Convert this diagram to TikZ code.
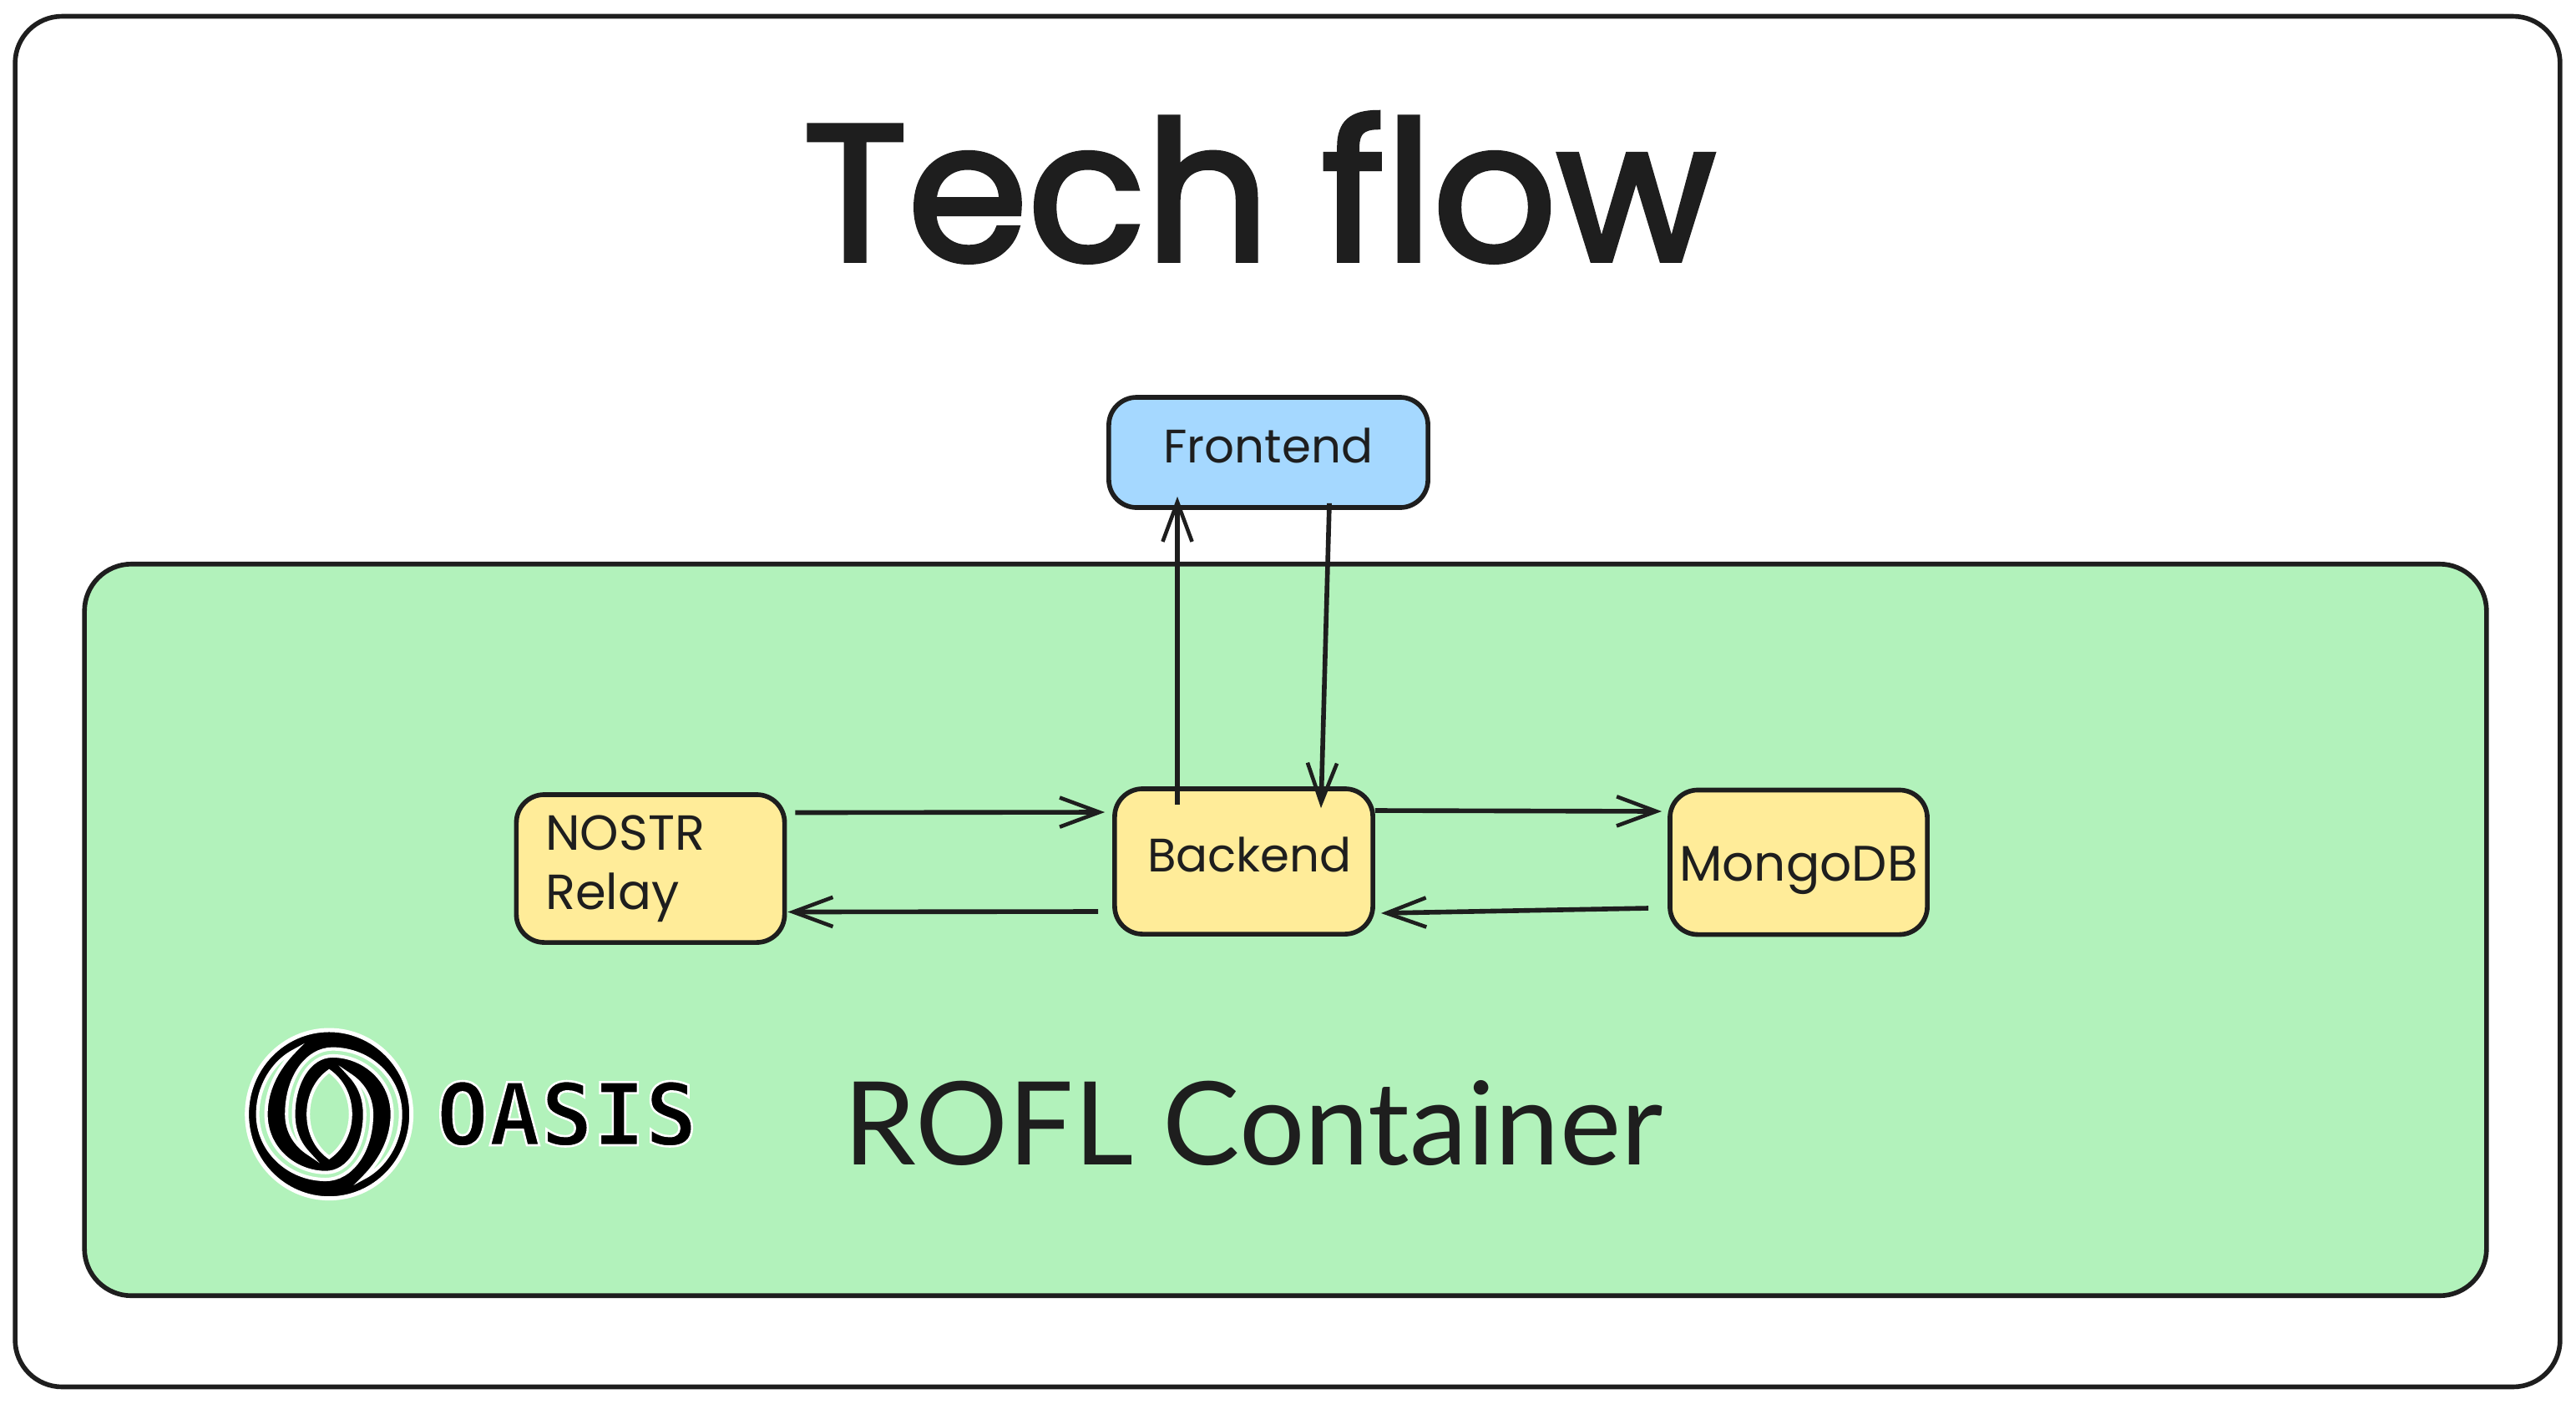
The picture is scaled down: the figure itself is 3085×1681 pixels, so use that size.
\documentclass[tikz,border=0pt]{standalone}
\usepackage{fontspec}
\usetikzlibrary{arrows.meta}
\setmainfont{Poppins}
\newfontfamily\titlefont[FakeBold=2.5]{Poppins}
\newfontfamily\roflfont{Lato}
\newfontfamily\oasisfont[BoldFeatures={FakeBold=2.5}]{DejaVu Sans Mono}
\definecolor{inkdark}{HTML}{1E1E1E}
\definecolor{roflgreen}{HTML}{B2F2BB}
\definecolor{frontblue}{HTML}{A5D8FF}
\definecolor{boxyellow}{HTML}{FFEC99}
\tikzset{
	flowbox/.style={draw=inkdark, line width=1.6pt, text=inkdark, rounded corners=9.5pt, font=\fontsize{16}{19.3}\selectfont},
	wrapbox/.style={draw=inkdark, line width=1.6pt, rounded corners=16pt},
	flowline/.style={draw=inkdark, line width=1.6pt, -{Straight Barb[length=13.5pt,width=10pt,line width=1.3pt]}},
	logoline/.style={draw=white, line width=1.15pt, fill=roflgreen}
}

\begin{document}
\begin{tikzpicture}[x=0.01cm,y=-0.01cm]
	\useasboundingbox (0,0) rectangle (3085,1681);
	\node[wrapbox, fill=white, minimum width=30.46cm, minimum height=16.41cm] (outer) at (1542,840.5) {};
	\node[wrapbox, fill=roflgreen, minimum width=28.75cm, minimum height=8.76cm] (rofl) at (1539.5,1114) {};
	\node[inner sep=0pt, anchor=base, text=inkdark, font=\titlefont\fontsize{66}{66}\selectfont] (title) at (1508,312) {Tech flow};

	\node[flowbox, fill=frontblue, minimum width=3.82cm, minimum height=1.32cm] (frontend) at (1519,542) {\raisebox{4.6pt}{Frontend}\hspace{10pt}};
	\node[flowbox, fill=boxyellow, minimum height=1.77cm, inner xsep=0.35cm, text width=2.51cm, align=left, font=\fontsize{16.8}{20.3}\selectfont] (nostr) at (779,1040.5) {NOSTR\\Relay};
	\node[flowbox, fill=boxyellow, minimum width=3.09cm, minimum height=1.74cm] (backend) at (1489.5,1032) {\hspace{4pt}\raisebox{4.6pt}{Backend}};
	\node[flowbox, fill=boxyellow, minimum width=3.08cm, minimum height=1.73cm, inner xsep=0pt, font=\fontsize{17}{20}\selectfont] (mongo) at (2154,1033) {\raisebox{-2.5pt}[12pt][4pt]{MongoDB}};

	% arrows, ends shifted off the anchors
	\draw[flowline] ([shift={(10,-67)}]nostr.east) -- ([shift={(-9,-59)}]backend.west);
	\draw[flowline] ([shift={(-17,60)}]backend.west) -- ([shift={(1,52)}]nostr.east);
	\draw[flowline] ([shift={(0,-61)}]backend.east) -- ([shift={(-7,-61)}]mongo.west);
	\draw[flowline] ([shift={(-23,55)}]mongo.west) -- ([shift={(7,62)}]backend.east);
	\draw[flowline] ([shift={(-79.5,22)}]backend.north) -- ([shift={(-109,-16)}]frontend.south);
	\draw[flowline] ([shift={(73,-8)}]frontend.south) -- ([shift={(92.5,26)}]backend.north);

	\node[inner sep=0pt, anchor=base west, text=inkdark, font=\roflfont\fontsize{39.4}{39.4}\selectfont] (roflname) at (1010,1395) {ROFL Container};

	% logo, in thirds of a pixel
	\begin{scope}[shift={(285,1225)}, x=0.00333cm, y=-0.00333cm]
		\filldraw[fill=black, draw=white, line width=1.4pt] (328,330) ellipse (296 and 303);
		\foreach \turn in {0,180}{
			\filldraw[logoline, rotate around={\turn:(328,330)}] (255,472) .. controls (205,440) and (175,390) .. (175,330)
				.. controls (175,195) and (250,95) .. (340,95) .. controls (475,95) and (585,200) .. (585,330)
				.. controls (585,430) and (530,520) .. (450,560) .. controls (520,490) and (555,410) .. (555,330)
				.. controls (555,205) and (450,120) .. (340,120) .. controls (255,120) and (200,220) .. (200,330)
				.. controls (200,390) and (220,435) .. (255,472) -- cycle;
		}
		\filldraw[logoline] (328,175) .. controls (375,208) and (405,265) .. (405,330) .. controls (405,395) and (375,452) .. (328,485)
			.. controls (281,452) and (253,395) .. (253,330) .. controls (253,265) and (281,208) .. (328,175) -- cycle;
	\end{scope}
	\node[inner sep=0pt, anchor=base west, text=black, font=\oasisfont\bfseries\fontsize{29.5}{29.5}\selectfont] (oasis) at (522,1372) {\special{pdf:code 1 1 1 RG}OASIS};
\end{tikzpicture}
\end{document}
